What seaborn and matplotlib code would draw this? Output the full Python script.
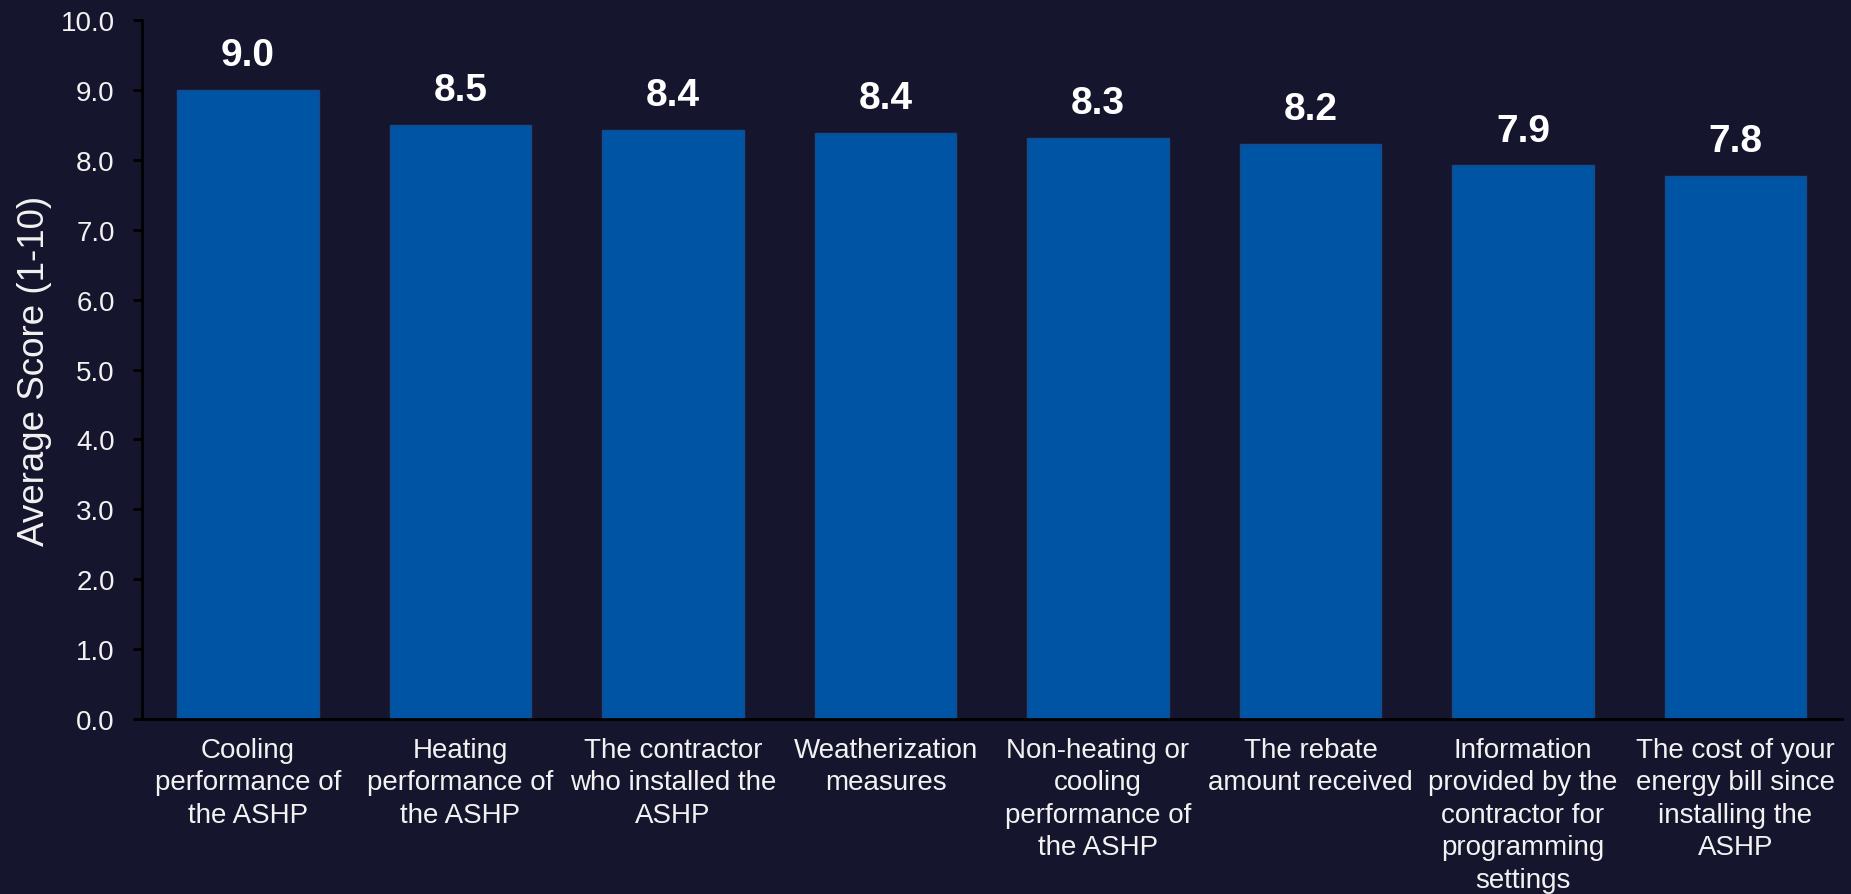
import numpy as np
import pandas as pd
import matplotlib
matplotlib.use("Agg")
import matplotlib.pyplot as plt
import seaborn as sns

# ======== chart data ========
categories = [
    "Cooling\nperformance of\nthe ASHP",
    "Heating\nperformance of\nthe ASHP",
    "The contractor\nwho installed the\nASHP",
    "Weatherization\nmeasures",
    "Non-heating or\ncooling\nperformance of\nthe ASHP",
    "The rebate\namount received",
    "Information\nprovided by the\ncontractor for\nprogramming\nsettings",
    "The cost of your\nenergy bill since\ninstalling the\nASHP",
]
scores = [9.0, 8.5, 8.43, 8.39, 8.31, 8.23, 7.92, 7.77]
y_ticks = [0, 1, 2, 3, 4, 5, 6, 7, 8, 9, 10]

bg = "#15152e"
bar_color = "#0054a4"
text_color = "#f2f2f2"

df = pd.DataFrame({"category": categories, "score": scores})

sns.set_style("white")
plt.rcParams["font.family"] = ["Liberation Sans", "DejaVu Sans"]

fig = plt.figure(figsize=(18.51, 8.95), dpi=100, facecolor=bg)
ax = fig.add_axes([0.0766, 0.1955, 0.9184, 0.781])
ax.set_facecolor(bg)

sns.barplot(data=df, x="category", y="score", color=bar_color, width=0.665,
            saturation=1, edgecolor="#164a88", linewidth=1, ax=ax)

# value labels
for i, v in enumerate(scores):
    ax.annotate(f"{v:.1f}", (i, v), xytext=(0, 12), textcoords="offset points",
                ha="center", va="bottom", fontsize=28, fontweight="bold", color="white")

ax.set_xlim(-0.5, 7.5)
ax.set_ylim(0, 10)
ax.set_yticks(y_ticks)
ax.set_yticklabels([f"{t:.1f}" for t in y_ticks], fontsize=20, color=text_color)
ax.set_xticks(range(len(categories)))
ax.set_xticklabels(categories, fontsize=20, color=text_color, linespacing=1.32)
ax.tick_params(axis="y", length=6.5, width=2, color="black", pad=13, direction="out", left=True)
ax.tick_params(axis="x", length=0, pad=13)

ax.set_xlabel("")
ax.set_ylabel("Average Score (1-10)", fontsize=26.5, color=text_color)
ax.yaxis.set_label_coords(-0.053, 0.5)

for side in ["top", "right"]:
    ax.spines[side].set_visible(False)
for side in ["left", "bottom"]:
    ax.spines[side].set_color("black")
    ax.spines[side].set_linewidth(2)

fig.savefig("out.png", dpi=100, facecolor=bg)
